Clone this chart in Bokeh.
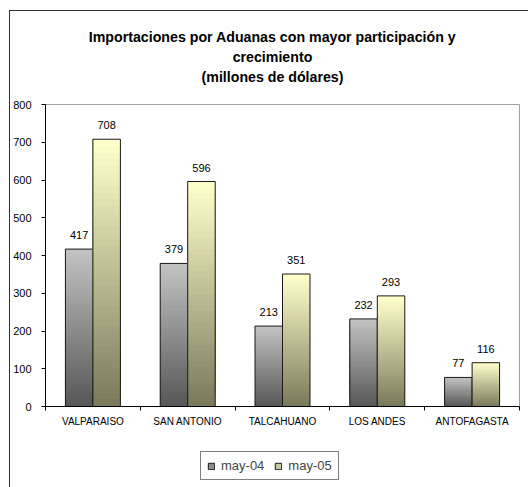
from bokeh.plotting import figure
from bokeh.models import (ColumnDataSource, FixedTicker, Legend, LegendItem,
                          Range1d, Label)
from bokeh.layouts import column
from bokeh.embed import file_html
from bokeh.resources import INLINE
from bokeh.core.properties import value

# ---- data ----
categories = ["VALPARAISO", "SAN ANTONIO", "TALCAHUANO", "LOS ANDES", "ANTOFAGASTA"]
may04 = [417, 379, 213, 232, 77]
may05 = [708, 596, 351, 293, 116]
series_names = ["may-04", "may-05"]
y_ticks = [0, 100, 200, 300, 400, 500, 600, 700, 800]
title_lines = ["Importaciones por Aduanas con mayor participación y",
               "crecimiento", "(millones de dólares)"]

FONT = "Liberation Sans"
W = 518


def blank(h):
    f = figure(width=W, height=h, output_backend="svg", toolbar_location=None,
               x_range=Range1d(0, 1), y_range=Range1d(0, 1),
               x_axis_location=None, y_axis_location=None, min_border=0)
    f.outline_line_color = None
    f.xgrid.visible = False
    f.ygrid.visible = False
    f.background_fill_color = "white"
    f.border_fill_color = "white"
    return f


# ---- title strip ----
pt = blank(80)
for line, yy in zip(title_lines, [55, 35, 15]):
    pt.add_layout(Label(x=227, y=yy, x_units="screen", y_units="screen", text=line,
                        text_align="center", text_baseline="middle",
                        text_font=FONT, text_font_size="14.2px",
                        text_font_style="bold", text_color="#000000"))

# ---- main chart ----
p = figure(width=W, height=341, output_backend="svg", toolbar_location=None,
           x_range=Range1d(-0.5, len(categories) - 0.5), y_range=Range1d(0, 800),
           min_border_left=35, min_border_right=9, min_border_top=13, min_border_bottom=26)
p.outline_line_color = "#a0a0a0"
p.background_fill_color = "white"
p.border_fill_color = "white"
p.xgrid.visible = False
p.ygrid.visible = False


def lerp(c1, c2, t):
    a = [int(c1[i:i + 2], 16) for i in (1, 3, 5)]
    b = [int(c2[i:i + 2], 16) for i in (1, 3, 5)]
    return "#%02x%02x%02x" % tuple(round(a[k] + (b[k] - a[k]) * t) for k in range(3))


N = 40
BW = 0.29
series = [(may04, -BW / 2, "#585858", "#c2c2c2", "#8c8c8c"),
          (may05, BW / 2, "#7b7b5c", "#ffffcc", "#c8c89a")]

for vals, off, dark, light, mid in series:
    xs, bots, tops, cols = [], [], [], []
    for i, v in enumerate(vals):
        for k in range(N):
            xs.append(i + off)
            bots.append(v * k / N)
            tops.append(v)
            cols.append(lerp(dark, light, k / (N - 1)))
    p.vbar(x=xs, bottom=bots, top=tops, width=BW, fill_color=cols, line_color=None)
    xo = [i + off for i in range(len(vals))]
    src = ColumnDataSource(dict(x=xo, top=vals, lab=[str(v) for v in vals]))
    p.vbar(x="x", top="top", bottom=0, width=BW, source=src, fill_color=None,
           line_color="#1a1a1a", line_width=1)
    p.text(x="x", y="top", text="lab", source=src, text_align="center",
           text_baseline="bottom", y_offset=-10, text_font=value(FONT),
           text_font_size="11px", text_color="#000000")

p.yaxis.ticker = FixedTicker(ticks=y_ticks)
p.yaxis.axis_line_color = "#000000"
p.yaxis.major_tick_line_color = "#000000"
p.yaxis.major_tick_out = 4
p.yaxis.major_tick_in = 0
p.yaxis.minor_tick_line_color = None
p.yaxis.major_label_standoff = 10
p.yaxis.major_label_text_font = FONT
p.yaxis.major_label_text_font_size = "11px"
p.yaxis.major_label_text_color = "#000000"

p.xaxis.ticker = FixedTicker(ticks=list(range(len(categories))),
                             minor_ticks=[i - 0.5 for i in range(len(categories) + 1)])
p.xaxis.major_label_overrides = {i: c for i, c in enumerate(categories)}
p.xaxis.axis_line_color = "#000000"
p.xaxis.major_tick_line_color = None
p.xaxis.minor_tick_line_color = "#000000"
p.xaxis.minor_tick_out = 4
p.xaxis.minor_tick_in = 0
p.xaxis.major_label_standoff = 3
p.xaxis.major_label_text_font = FONT
p.xaxis.major_label_text_font_size = "10px"
p.xaxis.major_label_text_color = "#000000"

# ---- legend strip ----
pl = blank(55)
items = []
for (vals, off, dark, light, mid), name in zip(series, series_names):
    r = pl.vbar(x=[float("nan")], bottom=[float("nan")], top=[float("nan")], width=0.1,
                fill_color=mid, line_color="#1a1a1a")
    items.append(LegendItem(label=name, renderers=[r]))
legend = Legend(items=items, location=(155, 7), orientation="horizontal",
                border_line_color="#000000", border_line_width=1,
                background_fill_color="white", background_fill_alpha=1,
                glyph_width=8, glyph_height=8, label_height=14,
                label_text_font=FONT, label_text_font_size="13px",
                label_standoff=6, spacing=10, padding=6, margin=0)
pl.add_layout(legend, "center")

layout = column(pt, p, pl, spacing=0)
layout.styles = {"margin-left": "9px", "margin-top": "10px",
                 "border-left": "1px solid #333333", "border-top": "1px solid #333333"}

open("out.html", "w").write(file_html(layout, INLINE))
